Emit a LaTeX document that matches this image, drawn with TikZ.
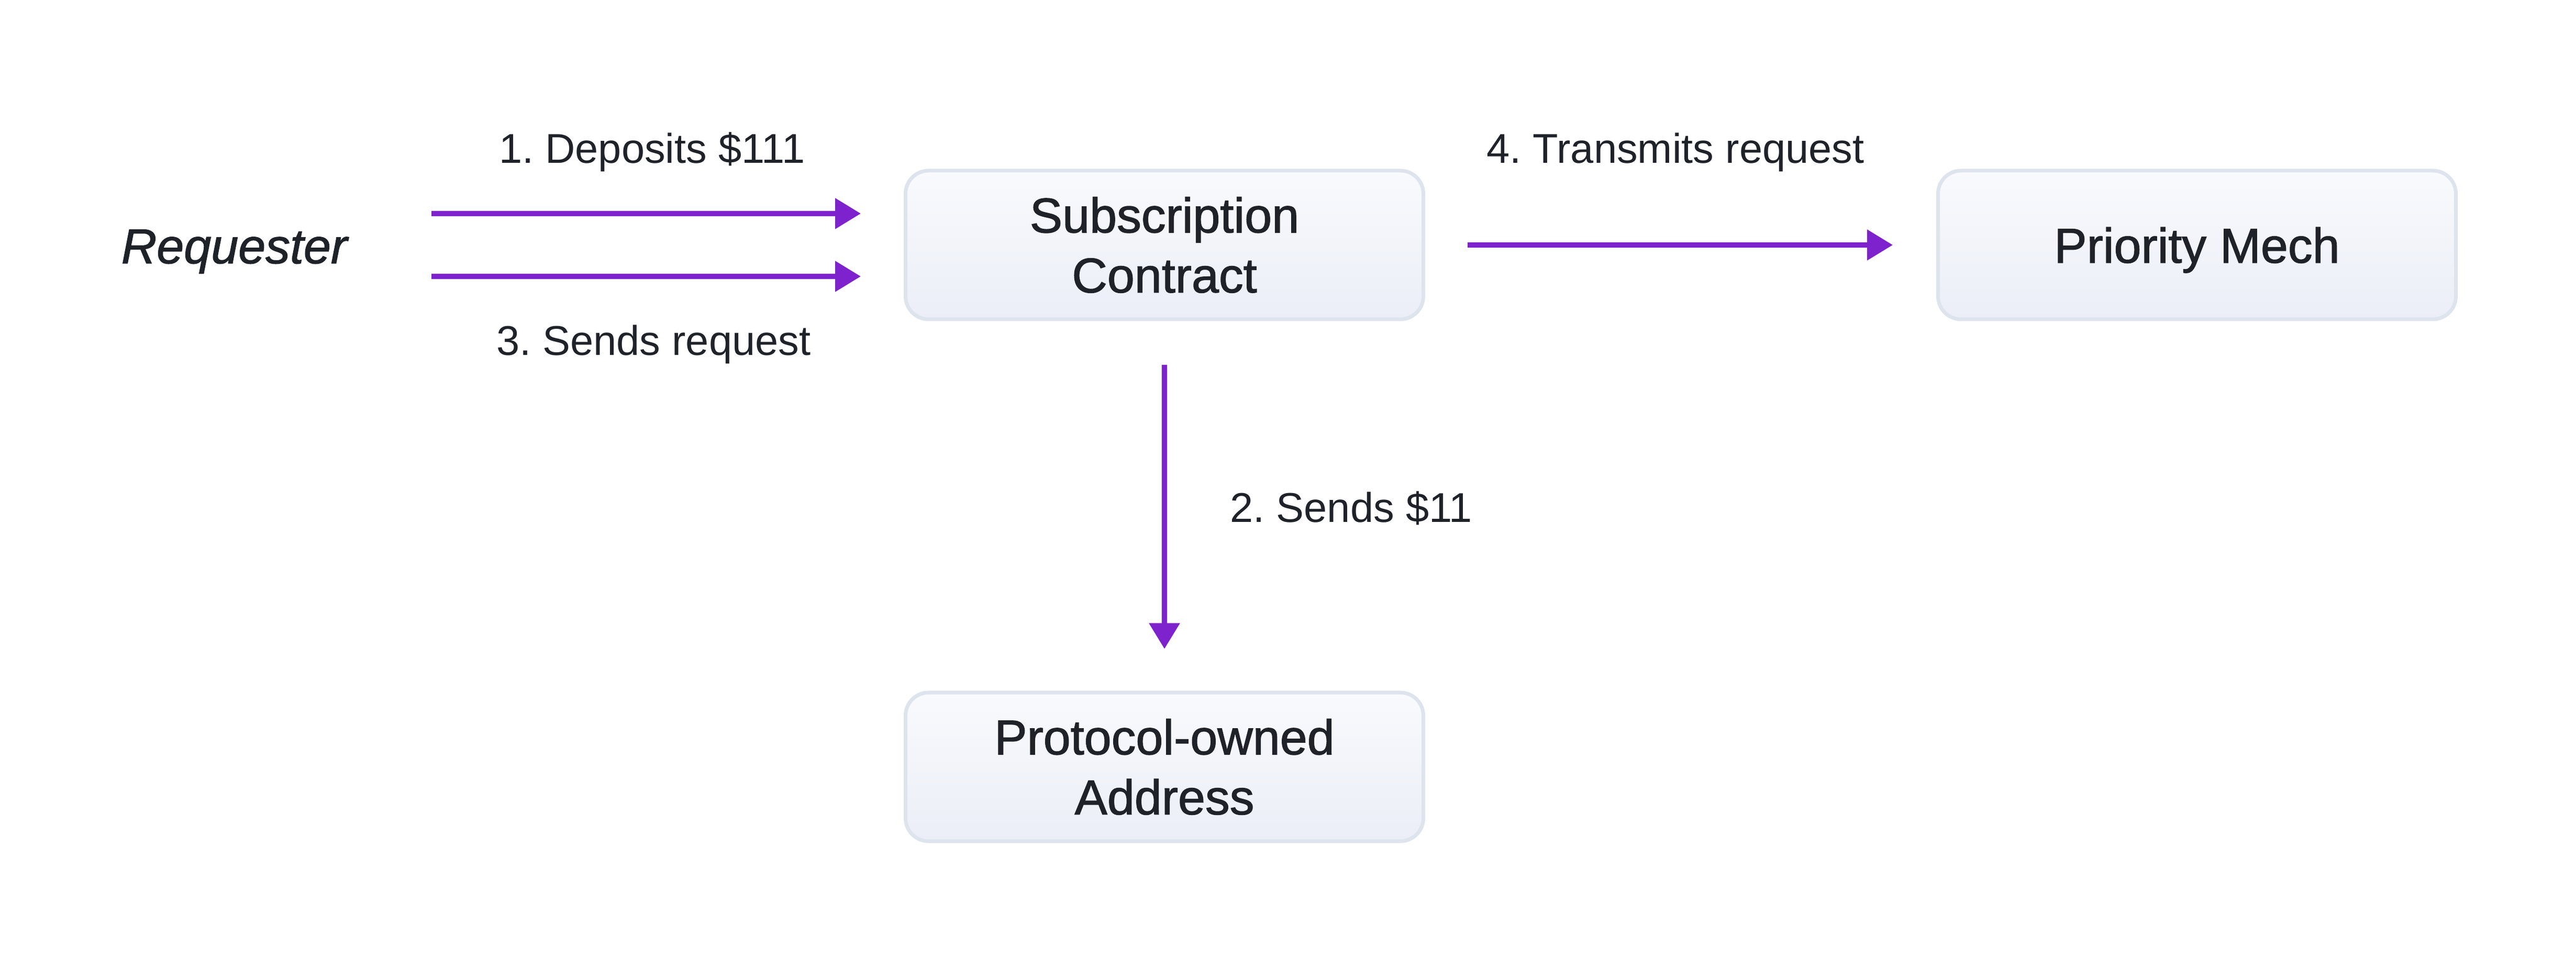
\documentclass[tikz,border=0pt]{standalone}
\usepackage{fontspec}
\setmainfont{Liberation Sans}
\newfontfamily\medfont{Liberation Sans}[FakeBold=1.4]
\usepackage{tikz}
\usetikzlibrary{arrows.meta}
\definecolor{flowpurple}{HTML}{7E22CE}
\definecolor{boxline}{HTML}{DEE4ED}
\definecolor{boxtop}{HTML}{F9FAFD}
\definecolor{boxbot}{HTML}{EBEEF7}
\definecolor{inkdark}{HTML}{1F2229}
\frenchspacing

\begin{document}
\begin{tikzpicture}[
  party/.style={draw=boxline, line width=1pt, rounded corners=2.2mm,
    top color=boxtop, bottom color=boxbot,
    minimum width=4.945cm, minimum height=1.42cm, align=center,
    text=inkdark, font=\medfont\fontsize{13.3}{16.3}\selectfont},
  flow/.style={draw=flowpurple, line width=1.3pt,
    -{Triangle[length=2.45mm,width=2.85mm]}},
  steplabel/.style={inner sep=0pt, text=inkdark,
    font=\fontsize{11.3}{13.5}\selectfont}
]
\useasboundingbox (0,0) rectangle (24.6,-9.16);

\node[party] (sub) at (11.12,-2.34) {Subscription\\Contract};
\node[party, text depth=0pt] (pm) at (20.98,-2.34) {Priority Mech};
\node[party] (poa) at (11.12,-7.325) {Protocol-owned\\Address};
\node[inner sep=0pt, anchor=base, text=inkdark,
  font=\medfont\itshape\fontsize{13.3}{16}\selectfont] (req) at (2.2375,-2.515) {Requester};

\draw[flow, shorten <=7.95mm, shorten >=4.1mm]
  ([yshift=3mm]sub.west -| req.base east) -- ([yshift=3mm]sub.west)
  node[steplabel, midway, anchor=base, xshift=2.5mm, yshift=4.8mm] {1. Deposits \$111};
\draw[flow, shorten <=7.95mm, shorten >=4.1mm]
  ([yshift=-3mm]sub.west -| req.base east) -- ([yshift=-3mm]sub.west)
  node[steplabel, midway, anchor=base, xshift=2.65mm, yshift=-7.55mm] {3. Sends request};
\draw[flow, shorten <=4.2mm, shorten >=4mm] (sub.south) -- (poa.north)
  node[steplabel, midway, anchor=base west, xshift=6.05mm, yshift=-1.55mm] {2. Sends \$11};
\draw[flow, shorten <=4.05mm, shorten >=4.15mm] (sub.east) -- (pm.west)
  node[steplabel, midway, anchor=base, xshift=-0.5mm, yshift=7.8mm] {4. Transmits request};
\end{tikzpicture}
\end{document}
